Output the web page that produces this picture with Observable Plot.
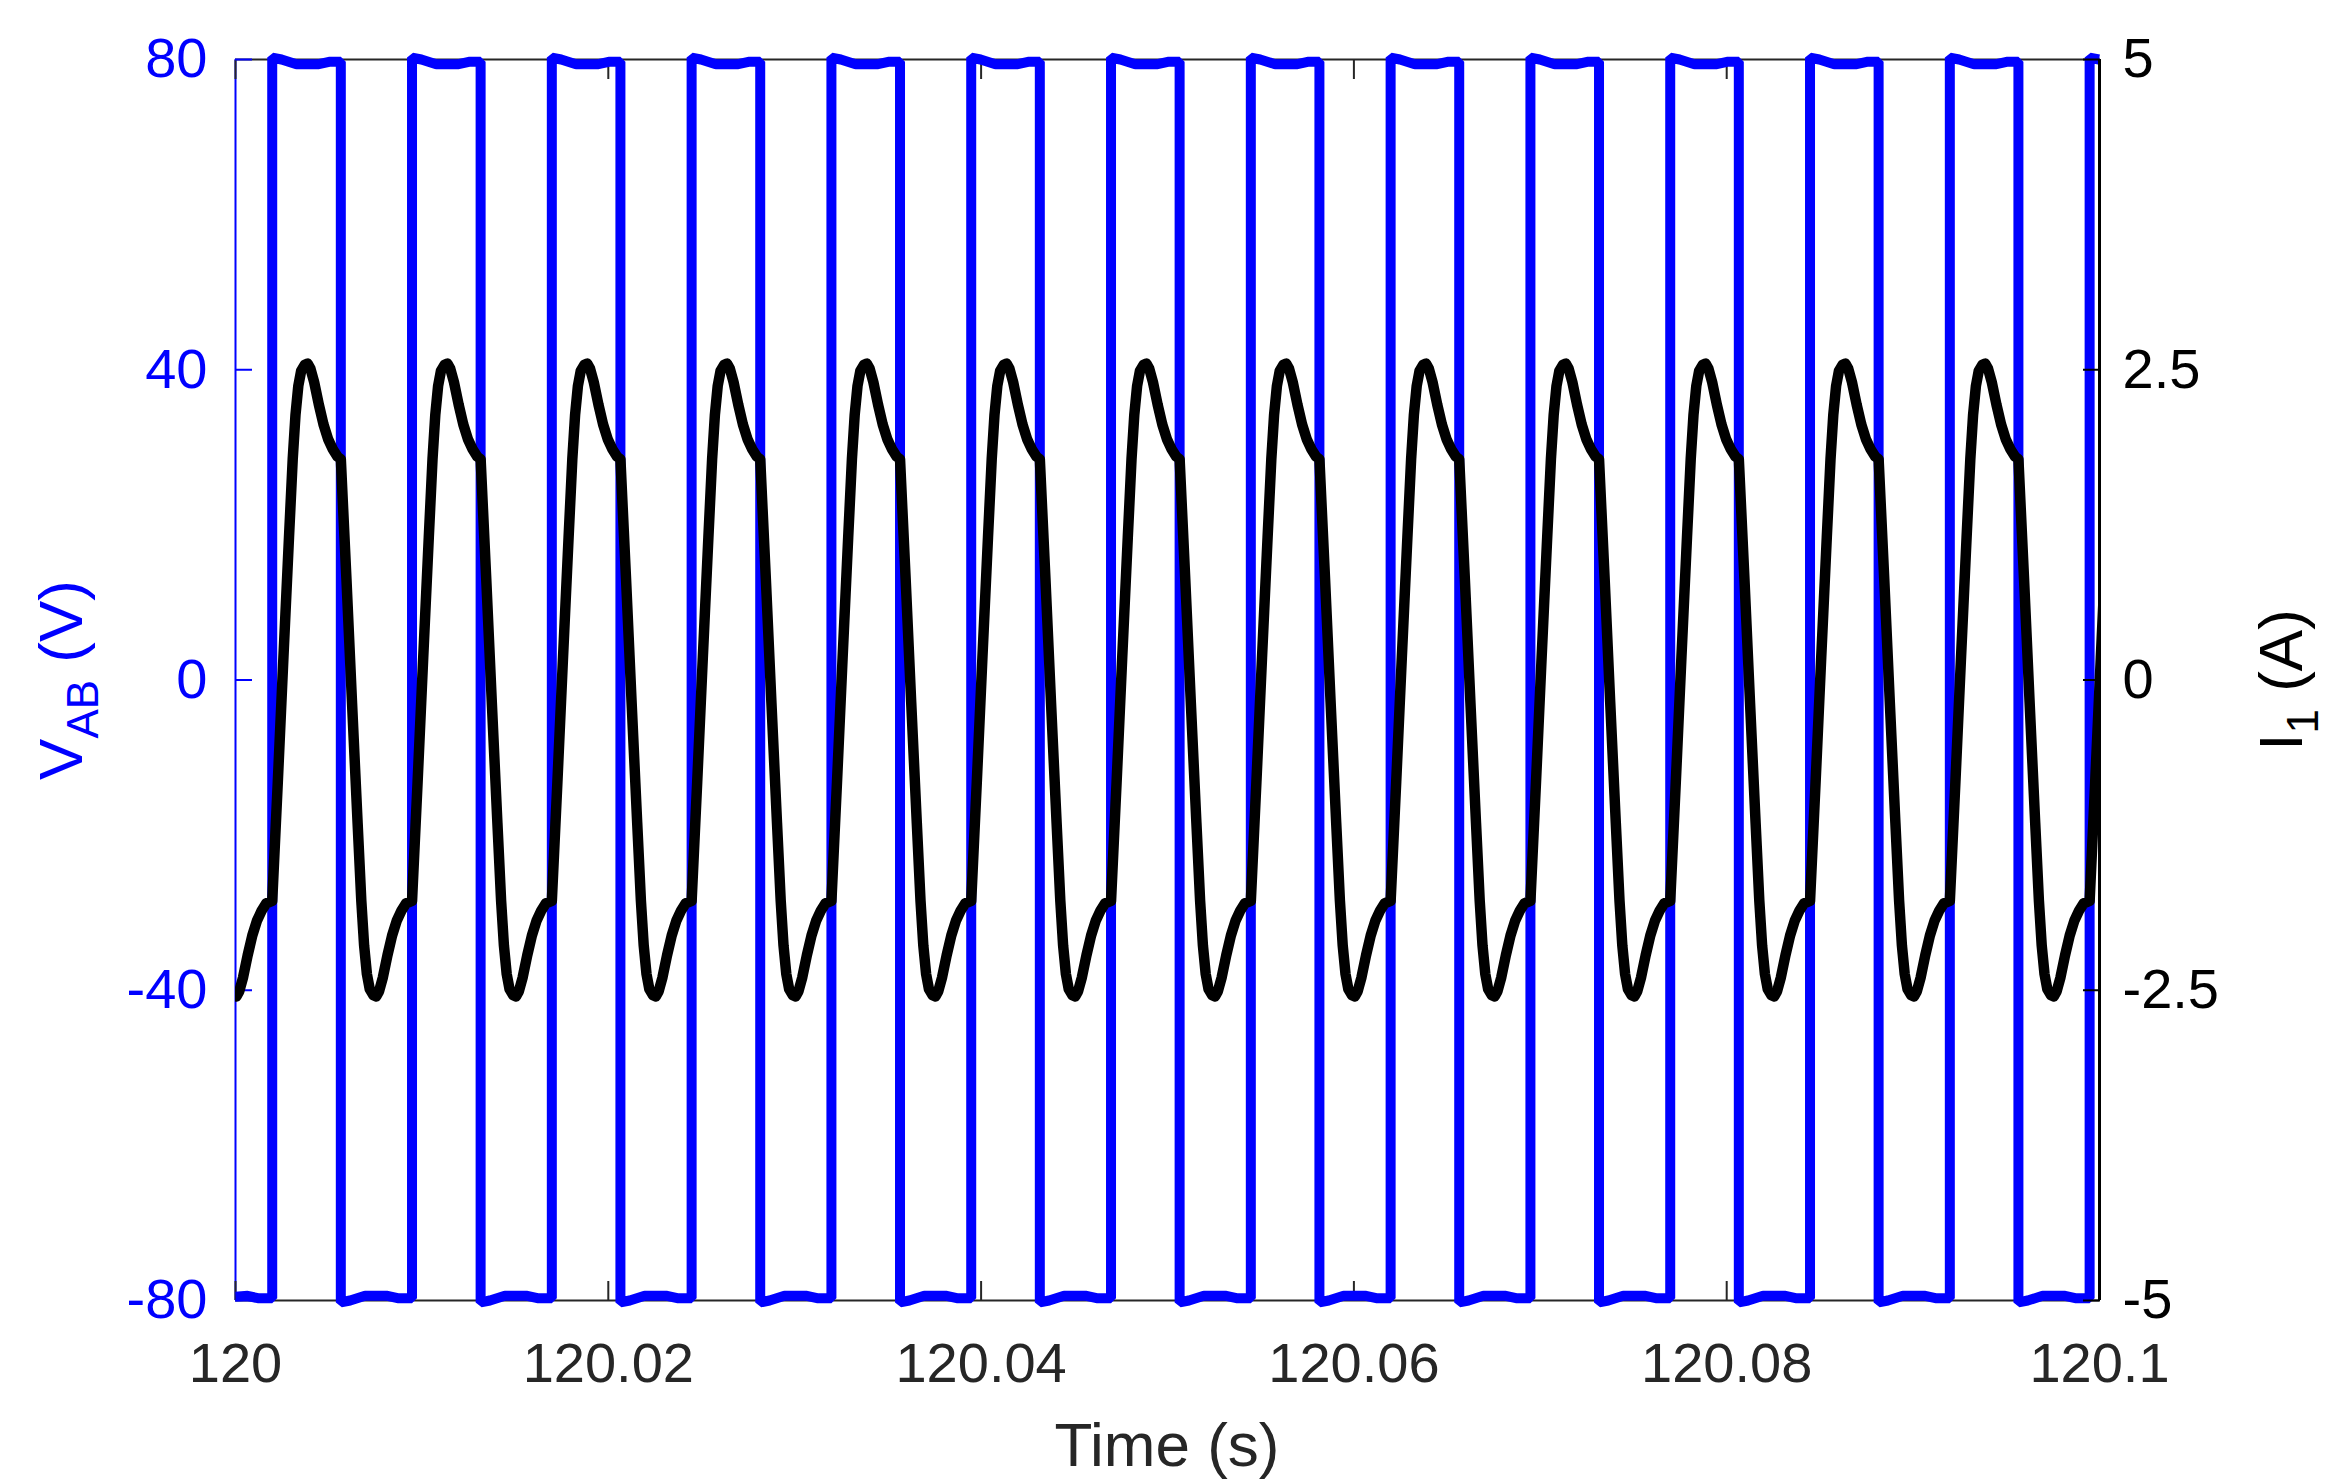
<!DOCTYPE html>
<html>
<head>
<meta charset="utf-8">
<script src="https://cdn.jsdelivr.net/npm/d3@7"></script>
<script src="https://cdn.jsdelivr.net/npm/@observablehq/plot@0.6"></script>
<style>
  body { margin: 0; background: #ffffff; }
  #chart { position: relative; width: 2351px; height: 1484px; font-family: "Liberation Sans", Arial, Helvetica, sans-serif; }
  #chart svg { position: absolute; left: 0; top: 0; overflow: visible; }
</style>
</head>
<body>
<div id="chart"></div>
<script>
// ---------- values (times in ms after t = 120 s) ----------
// switching instants of V_AB: rising edges (-> +80 V) and falling edges (-> -80 V)
const vRiseMs = [1.97, 9.47, 16.97, 24.47, 31.97, 39.47, 46.97, 54.47, 61.97, 69.47, 76.97, 84.47, 91.97, 99.47];
const vFallMs = [-1.85, 5.65, 13.15, 20.65, 28.15, 35.65, 43.15, 50.65, 58.15, 65.65, 73.15, 80.65, 88.15, 95.65];
// plateau of V_AB after an edge (small ripple), offset ms and |V|
const vPlateauOffsetMs = [0, 0.5, 1.3, 2.5, 3.05];
const vPlateauLevel = [80.25, 80.0, 79.4, 79.4, 79.7];
const vStartLevel = -79.5;   // V_AB at t = 120 s
const vEndLevel = 80.0;      // V_AB at t = 120.1 s
// I1 over one half cycle, offset ms after a V_AB edge (sign follows the edge)
const iShapeOffsetMs = [0, 0.30, 0.60, 0.90, 1.10, 1.25, 1.40, 1.55, 1.75, 1.90, 2.05, 2.25, 2.50, 2.75, 3.00, 3.25, 3.50];
const iShapeAmp = [-1.78, -0.82, 0.18, 1.15, 1.78, 2.14, 2.37, 2.49, 2.54, 2.55, 2.51, 2.40, 2.22, 2.06, 1.94, 1.86, 1.80];
// axes
const xTickValues = [120, 120.02, 120.04, 120.06, 120.08, 120.1];
const xTickLabels = ["120", "120.02", "120.04", "120.06", "120.08", "120.1"];
const vTickValues = [-80, -40, 0, 40, 80];
const vTickLabels = ["-80", "-40", "0", "40", "80"];
const iTickValues = [-5, -2.5, 0, 2.5, 5];
const iTickLabels = ["-5", "-2.5", "0", "2.5", "5"];
const xDomain = [120, 120.1];
const vDomain = [-80, 80];
const iDomain = [-5, 5];

// ---------- tables built from the arrays ----------
const edges = [
  ...vRiseMs.map(t => ({t, s: 1})),
  ...vFallMs.map(t => ({t, s: -1}))
].sort((a, b) => a.t - b.t);

const vRaw = [];
edges.forEach((e, k) => {
  const next = k + 1 < edges.length ? edges[k + 1].t : Infinity;
  vPlateauOffsetMs.forEach((o, j) => {
    if (e.t + o < next) vRaw.push({t: e.t + o, v: e.s * vPlateauLevel[j]});
  });
  if (next !== Infinity) vRaw.push({t: next, v: e.s * vPlateauLevel[vPlateauLevel.length - 1]});
});
const vData = [{t: 0, v: vStartLevel}, ...vRaw.filter(d => d.t > 0 && d.t < 100), {t: 100, v: vEndLevel}]
  .map(d => ({x: 120 + d.t / 1000, v: d.v}));

const iData = [];
edges.forEach(e => iShapeOffsetMs.forEach((o, j) => iData.push({x: 120 + (e.t + o) / 1000, i: e.s * iShapeAmp[j]})));

// ---------- layout ----------
const font = '"Liberation Sans", Arial, Helvetica, sans-serif';
const common = {
  width: 2351, height: 1484,
  marginLeft: 235, marginRight: 252, marginTop: 59, marginBottom: 184,
  x: {domain: xDomain, axis: null},
  style: {background: "transparent", fontFamily: font, overflow: "visible"}
};
const blue = "#0000ff", gray = "#262626";

const p1 = Plot.plot({
  ...common,
  y: {domain: vDomain, axis: null},
  marks: [
    Plot.ruleY([vDomain[0], vDomain[1]], {stroke: gray, strokeWidth: 2}),
    Plot.ruleX([xDomain[0]], {stroke: blue, strokeWidth: 2}),
    Plot.axisX(xTickValues, {anchor: "bottom", tickSize: -19, tickPadding: 61, strokeWidth: 2, color: gray, fontSize: 56,
      tickFormat: d => xTickLabels[xTickValues.indexOf(d)], label: null}),
    Plot.axisX(xTickValues, {anchor: "top", tickSize: -19, strokeWidth: 2, color: gray, tickFormat: () => "", label: null}),
    Plot.axisY(vTickValues, {anchor: "left", tickSize: -17, tickPadding: 45, strokeWidth: 2, color: blue, fontSize: 56,
      tickFormat: d => vTickLabels[vTickValues.indexOf(d)], label: null}),
    Plot.line(vData, {x: "x", y: "v", stroke: blue, strokeWidth: 10, strokeLinejoin: "miter", strokeLinecap: "butt"})
  ]
});

const p2 = Plot.plot({
  ...common,
  y: {domain: iDomain, axis: null},
  marks: [
    Plot.ruleX([xDomain[1]], {stroke: "#000000", strokeWidth: 3}),
    Plot.axisY(iTickValues, {anchor: "right", tickSize: -17, tickPadding: 40, strokeWidth: 2, color: "#000000", fontSize: 56,
      tickFormat: d => iTickLabels[iTickValues.indexOf(d)], label: null}),
    Plot.line(iData, {x: "x", y: "i", stroke: "#000000", strokeWidth: 10.5, strokeLinejoin: "round", clip: true})
  ]
});

const chart = document.getElementById("chart");
chart.appendChild(p1);
chart.appendChild(p2);

// ---------- axis titles (real text) ----------
const s2 = d3.select(p2);
s2.append("text")
  .attr("x", 1167).attr("y", 1466)
  .attr("text-anchor", "middle").attr("fill", gray)
  .attr("font-family", font).attr("font-size", 62)
  .text("Time (s)");

const vl = d3.select(p1).append("text")
  .attr("transform", "translate(82,680) rotate(-90)")
  .attr("text-anchor", "middle").attr("fill", blue)
  .attr("font-family", font).attr("font-size", 62)
  .style("white-space", "pre");
vl.append("tspan").text("V");
vl.append("tspan").attr("font-size", 44).attr("dy", 16).text("AB");
vl.append("tspan").attr("dy", -16).text(" (V)");

const il = s2.append("text")
  .attr("transform", "translate(2302,680) rotate(-90)")
  .attr("text-anchor", "middle").attr("fill", "#000000")
  .attr("font-family", font).attr("font-size", 62)
  .style("white-space", "pre");
il.append("tspan").text("I");
il.append("tspan").attr("font-size", 44).attr("dy", 16).text("1");
il.append("tspan").attr("dy", -16).text(" (A)");
</script>
</body>
</html>
